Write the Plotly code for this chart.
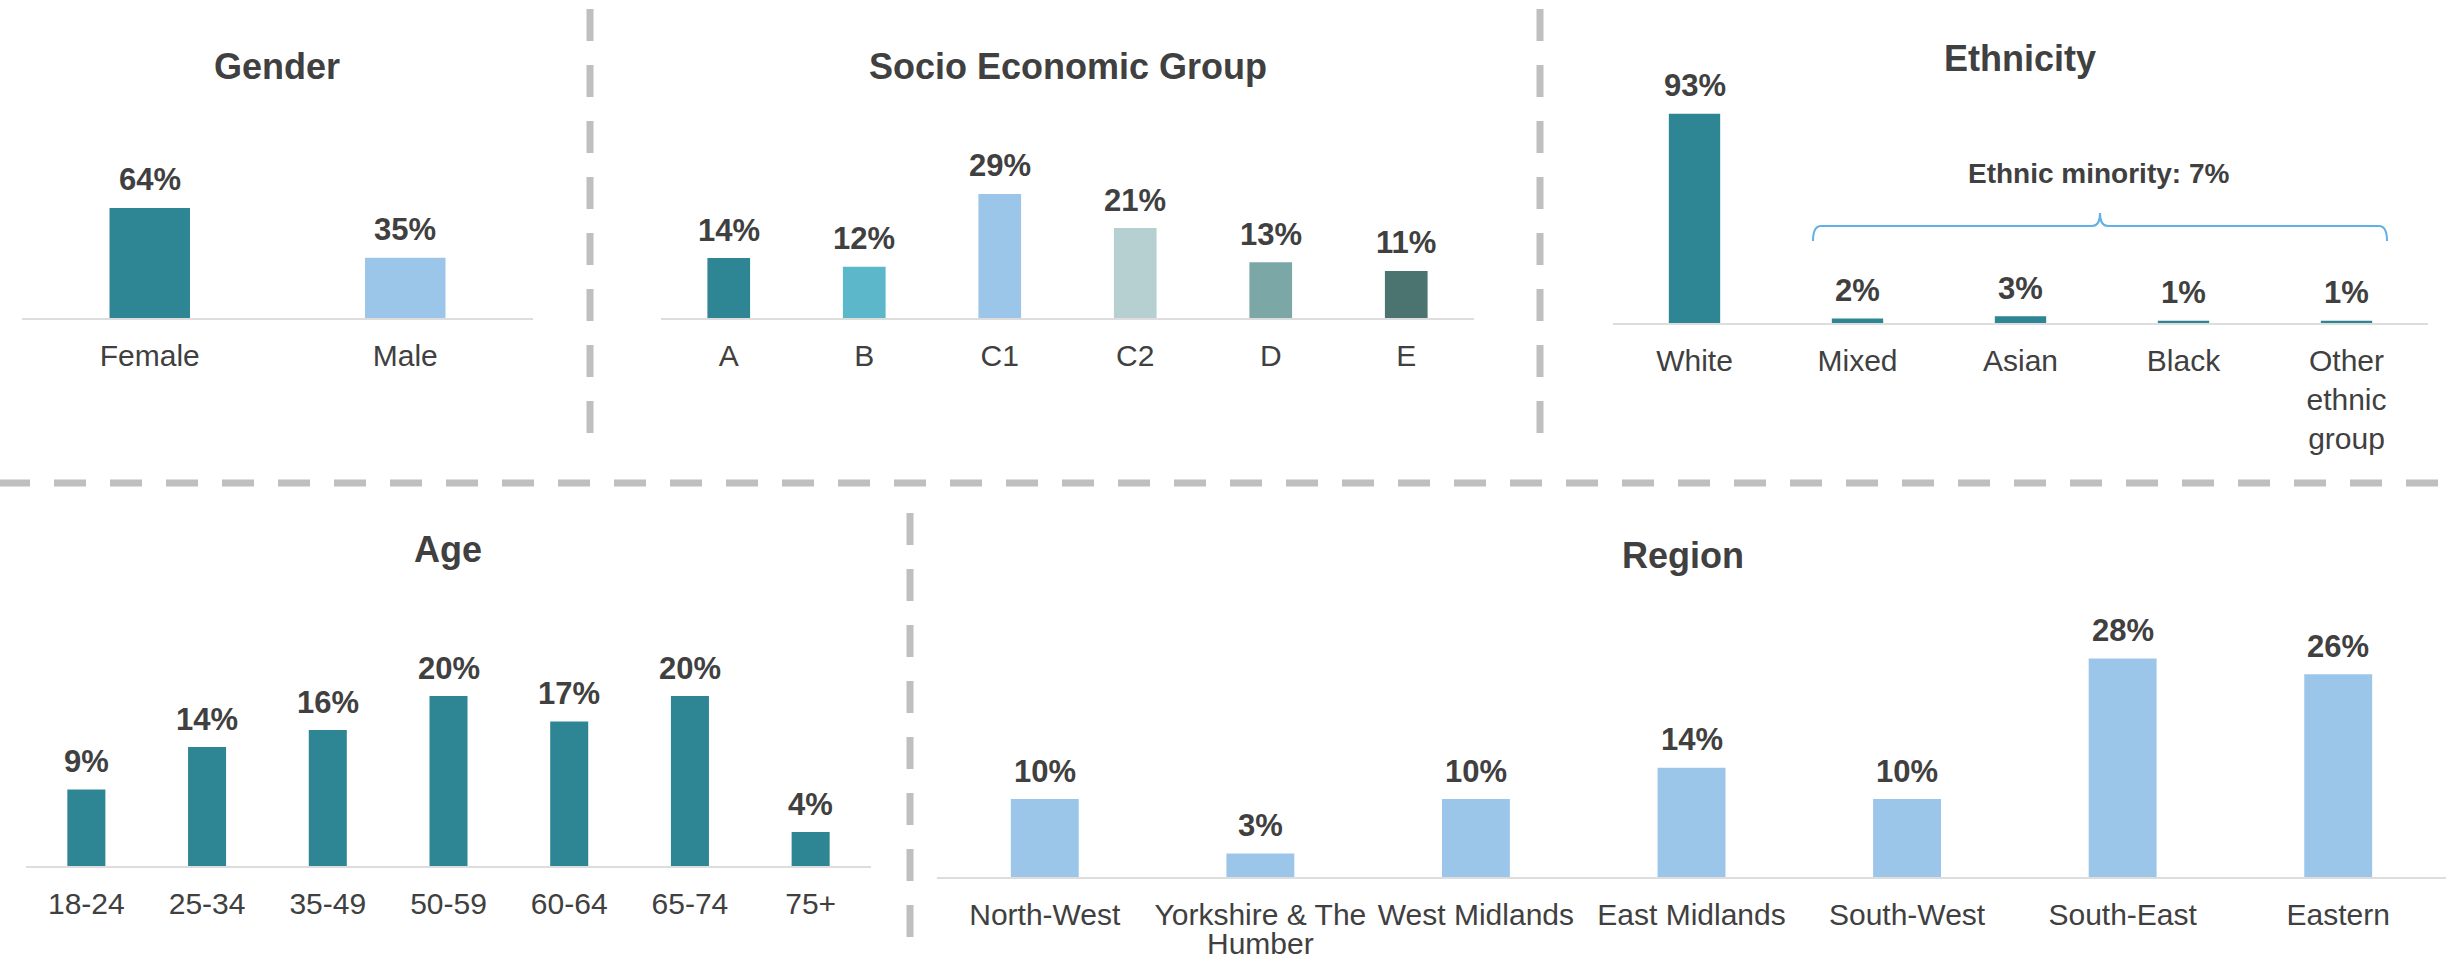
import plotly.graph_objects as go

W, H = 2450, 959

# ---------------- data ----------------
gender_cats = ["Female", "Male"]
gender_vals = [64, 35]

seg_cats = ["A", "B", "C1", "C2", "D", "E"]
seg_vals = [14, 12, 29, 21, 13, 11]

eth_cats = ["White", "Mixed", "Asian", "Black", "Other<br>ethnic<br>group"]
eth_vals = [93, 2, 3, 1, 1]
eth_minority_label = "Ethnic minority: 7%"

age_cats = ["18-24", "25-34", "35-49", "50-59", "60-64", "65-74", "75+"]
age_vals = [9, 14, 16, 20, 17, 20, 4]

region_cats = ["North-West", "Yorkshire & The Humber", "West Midlands",
               "East Midlands", "South-West", "South-East", "Eastern"]
region_vals = [10, 3, 10, 14, 10, 28, 26]
# tick labels wrapped as in the reference: first line on the axis, second line below
region_tick_line1 = ["North-West", "Yorkshire & The", "West Midlands",
                     "East Midlands", "South-West", "South-East", "Eastern"]
region_tick_line2 = ["", "Humber", "", "", "", "", ""]

# ---------------- style ----------------
TEAL = "#2E8593"
LIGHTBLUE = "#9BC6EA"
seg_colors = ["#2E8593", "#5BB7C9", "#9BC6EA", "#B6CFD1", "#7BA8A6", "#4B7471"]
TEXT = "#404040"
FONT = "Liberation Sans, Arial, sans-serif"
DASH_COL = "#BFBFBF"


def px_x(px):
    return px / W


def px_y(py):
    return 1 - py / H


# panel: title, cats, vals, colors, x0, x1, baseline, px per %, top, title centre x, title centre y
panels = [
    ("Gender", gender_cats, gender_vals, [TEAL, LIGHTBLUE], 22, 533, 318, 1.72, 100, 277, 66),
    ("Socio Economic Group", seg_cats, seg_vals, seg_colors, 661, 1474, 318, 4.28, 100, 1068, 66),
    ("Ethnicity", eth_cats, eth_vals, [TEAL] * 5, 1613, 2428, 323, 2.25, 100, 2020, 58),
    ("Age", age_cats, age_vals, [TEAL] * 7, 26, 871, 866, 8.5, 600, 448, 549),
    ("Region", region_cats, region_vals, [LIGHTBLUE] * 7, 937, 2446, 877, 7.8, 600, 1683, 555),
]

fig = go.Figure()
annotations = []
layout_axes = {}

for i, (title, cats, vals, cols, x0, x1, base, scale, top, tx, ty) in enumerate(panels, start=1):
    sfx = "" if i == 1 else str(i)
    fig.add_trace(go.Bar(
        x=cats, y=vals, marker=dict(color=cols, line=dict(width=0)),
        width=0.315, xaxis="x" + sfx, yaxis="y" + sfx,
        hoverinfo="x+y", showlegend=False,
    ))
    xa = dict(
        domain=[px_x(x0), px_x(x1)], anchor="y" + sfx, type="category",
        range=[-0.5, len(cats) - 0.5], showline=True, linecolor="#DDDDDD",
        linewidth=2, ticks="", showgrid=False, zeroline=False,
        tickfont=dict(size=30, color=TEXT, family=FONT), ticklabelstandoff=10,
        fixedrange=True, automargin=False,
    )
    if title == "Region":
        xa.update(tickmode="array", tickvals=cats, ticktext=region_tick_line1)
    layout_axes["xaxis" + sfx] = xa
    layout_axes["yaxis" + sfx] = dict(
        domain=[px_y(base), px_y(top)], anchor="x" + sfx,
        range=[0, (base - top) / scale], visible=False, fixedrange=True,
        automargin=False,
    )
    # panel title
    annotations.append(dict(
        text="<b>%s</b>" % title, xref="paper", yref="paper",
        x=px_x(tx), y=px_y(ty), xanchor="center", yanchor="middle",
        showarrow=False, font=dict(size=36, color=TEXT, family=FONT),
    ))
    # value labels
    for c, v in zip(cats, vals):
        annotations.append(dict(
            text="<b>%d%%</b>" % v, xref="x" + sfx, yref="y" + sfx,
            x=c, y=v, xanchor="center", yanchor="middle", yshift=28,
            showarrow=False, font=dict(size=31, color=TEXT, family=FONT),
        ))

# second line of wrapped region tick labels
for c, t in zip(region_cats, region_tick_line2):
    if t:
        annotations.append(dict(
            text=t, xref="x5", yref="paper", x=c, y=px_y(943),
            xanchor="center", yanchor="middle", showarrow=False,
            font=dict(size=30, color=TEXT, family=FONT),
        ))

# ethnic minority label
annotations.append(dict(
    text="<b>%s</b>" % eth_minority_label, xref="paper", yref="paper",
    x=px_x(2098), y=px_y(173), xanchor="center", yanchor="middle",
    showarrow=False, font=dict(size=28, color=TEXT, family=FONT),
))

shapes = []


def dline(x0, y0, x1, y1):
    shapes.append(dict(
        type="line", xref="paper", yref="paper",
        x0=px_x(x0), y0=px_y(y0), x1=px_x(x1), y1=px_y(y1),
        line=dict(color=DASH_COL, width=7, dash="32px,24px"),
    ))


dline(590, 9, 590, 457)
dline(1540, 9, 1540, 457)
dline(-2, 483, 2452, 483)
dline(910, 513, 910, 959)

# bracket over ethnic minority groups
bl, br, bm, by, bend, btip = 1813, 2387, 2100, 226, 241, 213


def P(px, py):
    return "%.6f %.6f" % (px_x(px), px_y(py))


path = ("M " + P(bl, bend) + " Q " + P(bl, by) + " " + P(bl + 8, by) +
        " L " + P(bm - 8, by) + " Q " + P(bm, by) + " " + P(bm, btip) +
        " Q " + P(bm, by) + " " + P(bm + 8, by) +
        " L " + P(br - 8, by) + " Q " + P(br, by) + " " + P(br, bend))
shapes.append(dict(type="path", xref="paper", yref="paper", path=path,
                   line=dict(color="#62B0E8", width=2)))

fig.update_layout(
    width=W, height=H, margin=dict(l=0, r=0, t=0, b=0, autoexpand=False),
    paper_bgcolor="white", plot_bgcolor="white",
    font=dict(family=FONT, color=TEXT),
    annotations=annotations, shapes=shapes, bargap=0.5,
    **layout_axes,
)

fig.write_html("out.html", config={"displayModeBar": False},
               post_script="document.body.style.margin='0px';")
